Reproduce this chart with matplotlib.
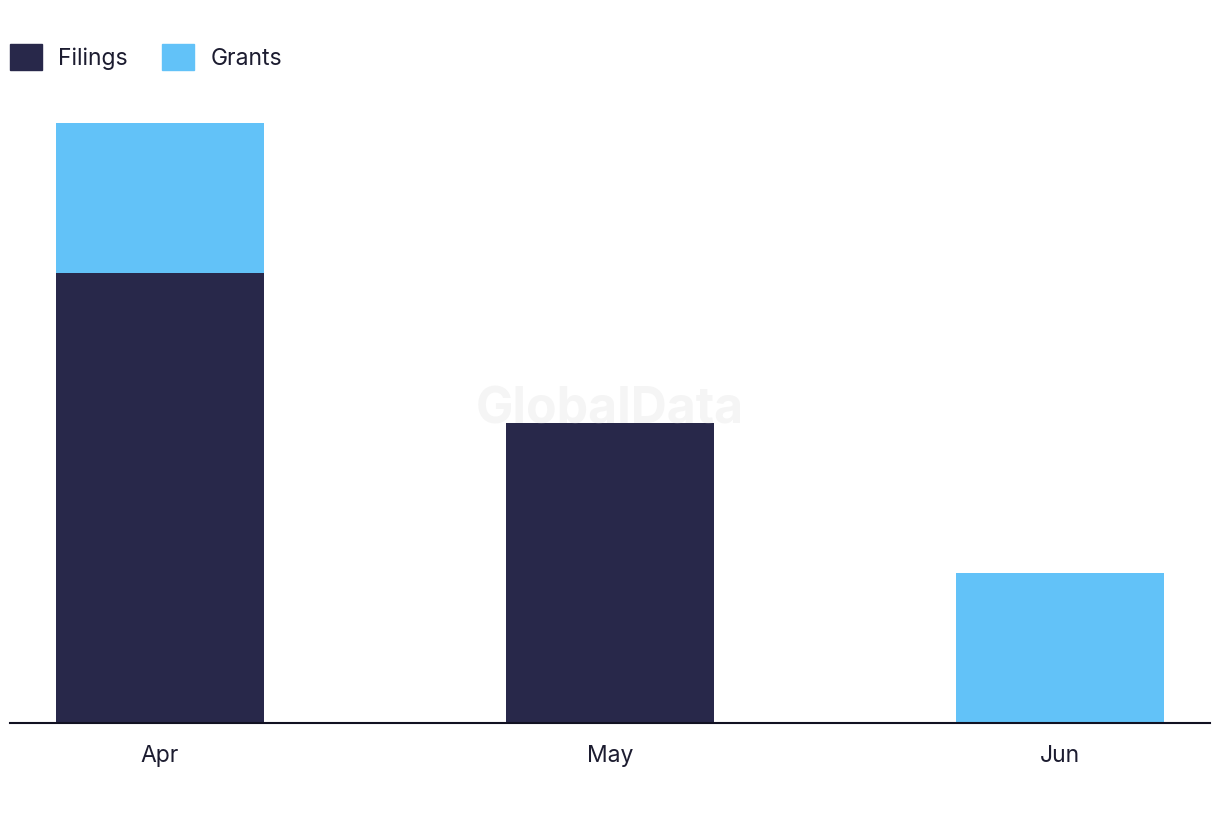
import matplotlib.pyplot as plt
from matplotlib.patches import Patch
import numpy as np

months = ['Apr', 'May', 'Jun']
filings = [3, 2, 0]
grants = [1, 0, 1]

navy = '#28284a'
blue = '#62c2f8'
txt = '#1c1c30'

plt.rcParams['font.family'] = ['Inter', 'DejaVu Sans']

fig = plt.figure(figsize=(12.2, 8.22), dpi=100)
ax = fig.add_axes([10/1220, 1 - 723/822, 1200/1220, 630/822])

x = np.arange(len(months))
ax.bar(x, filings, width=0.462, color=navy, zorder=2)
ax.bar(x, grants, width=0.462, bottom=filings, color=blue, zorder=2)

ax.set_xlim(-0.333, 2.333)
ax.set_ylim(0, 4.2)
ax.set_xticks(x)
ax.set_xticklabels(months, fontsize=16.5, color=txt)
ax.tick_params(axis='x', length=0, pad=16)
ax.set_yticks([])
for s in ['top', 'right', 'left']:
    ax.spines[s].set_visible(False)
ax.spines['bottom'].set_color('#111122')
ax.spines['bottom'].set_linewidth(1.5)

fig.text(610/1220, 1 - 410/822, 'GlobalData', fontsize=36, fontweight='bold',
         color='#d8d8d8', alpha=0.25, ha='center', va='center', zorder=5)

handles = [Patch(color=navy, label='Filings'), Patch(color=blue, label='Grants')]
fig.legend(handles=handles, loc='upper left', bbox_to_anchor=(10/1220, 1 - 44/822),
           ncol=2, frameon=False, fontsize=16.5, labelcolor=txt,
           handlelength=1.4, handleheight=1.4, handletextpad=0.7,
           columnspacing=1.5, borderaxespad=0, borderpad=0)

fig.savefig('out.png', dpi=100, facecolor='white')
